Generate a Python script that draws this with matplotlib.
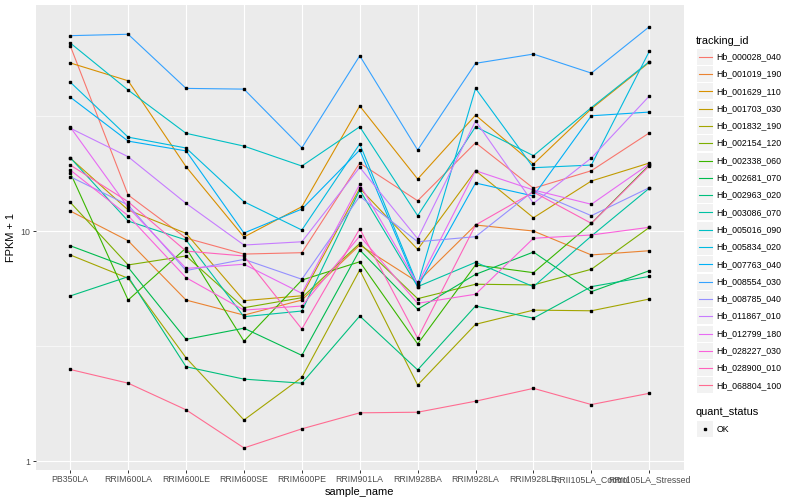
import matplotlib
matplotlib.use("Agg")
import matplotlib.pyplot as plt
from matplotlib.lines import Line2D
from matplotlib.patches import Rectangle
from matplotlib.ticker import FixedLocator, NullFormatter

plt.rcParams["font.family"] = ["Liberation Sans", "DejaVu Sans"]

samples = ["PB350LA", "RRIM600LA", "RRIM600LE", "RRIM600SE", "RRIM600PE",
           "RRIM901LA", "RRIM928BA", "RRIM928LA", "RRIM928LE",
           "RRII105LA_Control", "RRII105LA_Stressed"]

# FPKM + 1, one list per gene, in the sample order above
hb_000028_040 = [63.9, 14.34, 9.32, 7.94, 8.05, 19.75, 13.54, 24.2, 15.34, 18.29, 26.7]
hb_001019_190 = [12.22, 9.07, 5.01, 4.31, 5.01, 8.69, 6.00, 10.62, 10.0, 7.87, 8.21]
hb_001629_110 = [53.8, 45.0, 19.04, 9.42, 12.76, 34.96, 16.83, 31.9, 19.56, 34.0, 54.1]
hb_001703_030 = [20.77, 12.34, 9.77, 4.98, 5.23, 15.34, 8.32, 18.29, 11.42, 16.50, 19.75]
hb_001832_190 = [7.87, 6.23, 2.81, 1.508, 2.31, 6.77, 2.14, 3.93, 4.53, 4.50, 5.06]
hb_002154_120 = [13.33, 7.12, 7.79, 4.64, 5.13, 8.84, 5.08, 5.87, 5.83, 6.82, 10.36]
hb_002338_060 = [17.93, 5.01, 8.44, 3.32, 6.12, 7.35, 3.23, 7.12, 6.59, 10.80, 19.36]
hb_002681_070 = [8.63, 6.95, 3.38, 3.78, 2.88, 8.27, 4.57, 6.48, 8.10, 5.45, 6.72]
hb_002963_020 = [5.22, 6.33, 2.57, 2.27, 2.18, 4.27, 2.49, 4.72, 4.18, 5.73, 6.35]
hb_003086_070 = [20.83, 11.05, 9.14, 4.24, 4.49, 15.08, 5.73, 7.31, 5.73, 9.51, 15.34]
hb_005016_090 = [65.7, 41.0, 26.6, 23.4, 19.17, 28.4, 11.66, 28.4, 21.26, 34.4, 54.5]
hb_005834_020 = [44.4, 25.6, 22.96, 13.41, 10.10, 23.9, 5.83, 41.7, 18.85, 19.36, 60.4]
hb_007763_040 = [38.2, 24.6, 22.3, 9.80, 12.46, 22.5, 5.71, 16.17, 14.20, 31.7, 32.9]
hb_008554_030 = [70.7, 71.7, 41.7, 41.4, 23.0, 57.8, 22.5, 53.6, 58.8, 48.6, 77.3]
hb_008785_040 = [17.22, 12.97, 6.73, 7.53, 6.17, 14.16, 8.98, 9.45, 14.93, 11.66, 15.43]
hb_011867_010 = [28.0, 21.04, 13.19, 8.69, 8.98, 18.92, 9.26, 30.1, 13.19, 20.77, 38.6]
hb_012799_180 = [28.3, 12.68, 6.88, 7.17, 5.36, 15.96, 5.88, 18.29, 15.08, 13.07, 19.56]
hb_028227_030 = [18.42, 11.66, 6.27, 4.53, 4.72, 9.51, 4.85, 5.31, 9.30, 9.61, 10.38]
hb_028900_010 = [19.36, 13.41, 8.18, 7.79, 3.75, 10.23, 3.42, 10.62, 14.77, 10.80, 19.17]
hb_068804_100 = [2.50, 2.18, 1.67, 1.14, 1.38, 1.62, 1.63, 1.82, 2.07, 1.76, 1.97]

tracking_ids = ["Hb_000028_040", "Hb_001019_190", "Hb_001629_110", "Hb_001703_030",
                "Hb_001832_190", "Hb_002154_120", "Hb_002338_060", "Hb_002681_070",
                "Hb_002963_020", "Hb_003086_070", "Hb_005016_090", "Hb_005834_020",
                "Hb_007763_040", "Hb_008554_030", "Hb_008785_040", "Hb_011867_010",
                "Hb_012799_180", "Hb_028227_030", "Hb_028900_010", "Hb_068804_100"]

series = [hb_000028_040, hb_001019_190, hb_001629_110, hb_001703_030, hb_001832_190,
          hb_002154_120, hb_002338_060, hb_002681_070, hb_002963_020, hb_003086_070,
          hb_005016_090, hb_005834_020, hb_007763_040, hb_008554_030, hb_008785_040,
          hb_011867_010, hb_012799_180, hb_028227_030, hb_028900_010, hb_068804_100]

# ggplot2 default hue palette for 20 levels
colours = ["#F8766D", "#EA8331", "#D89000", "#C09B00", "#A3A500", "#7CAE00", "#39B600",
           "#00BB4E", "#00BF7D", "#00C1A3", "#00BFC4", "#00BAE0", "#00B0F6", "#35A2FF",
           "#9590FF", "#C77CFF", "#E76BF3", "#FA62DB", "#FF62BC", "#FF6C91"]

W, H = 800, 500
fig = plt.figure(figsize=(W / 100, H / 100), dpi=100)
ax = fig.add_axes([35.5 / W, 30 / H, (684 - 35.5) / W, 465 / H])
ax.set_facecolor("#EBEBEB")

xs = list(range(len(samples)))
for vals, col in zip(series, colours):
    ax.plot(xs, vals, color=col, lw=0.8, zorder=2)
for vals in series:
    ax.plot(xs, vals, ls="none", marker="s", ms=2.0, color="black", zorder=3)

ax.set_yscale("log")
ax.set_ylim(0.914, 96.1)
ax.set_xlim(-0.6, len(samples) - 0.4)
ax.set_yticks([1, 10])
ax.set_yticklabels(["1", "10"])
ax.yaxis.set_minor_locator(FixedLocator([10 ** 0.5, 10 ** 1.5]))
ax.yaxis.set_minor_formatter(NullFormatter())
ax.set_xticks(xs)
ax.set_xticklabels(samples)

ax.grid(which="major", color="white", lw=0.8)
ax.grid(which="minor", axis="y", color="white", lw=0.4)
ax.set_axisbelow(True)
for s in ax.spines.values():
    s.set_visible(False)
ax.tick_params(which="major", length=2, width=0.7, color="#333333",
               labelsize=6.3, labelcolor="#4D4D4D", pad=1.6)
ax.tick_params(which="minor", length=0)

ax.set_xlabel("sample_name", fontsize=7.9, labelpad=2)
ax.set_ylabel("FPKM + 1", fontsize=7.9, labelpad=3)


def fx(px):
    return px / W


def fy(py):
    return 1 - py / H


# legend: tracking_id
fig.text(fx(696), fy(40.7), "tracking_id", fontsize=7.9, va="center", ha="left")
for i, (name, col) in enumerate(zip(tracking_ids, colours)):
    yc = 56.7 + i * 17.3
    fig.add_artist(Rectangle((fx(697), fy(yc + 8)), 16 / W, 16 / H,
                             transform=fig.transFigure, facecolor="#F2F2F2",
                             edgecolor="none"))
    fig.add_artist(Line2D([fx(698.5), fx(711.5)], [fy(yc), fy(yc)], color=col,
                          lw=0.8, transform=fig.transFigure))
    fig.text(fx(716.7), fy(yc), name, fontsize=6.3, va="center", ha="left")

# legend: quant_status
fig.text(fx(696), fy(412.3), "quant_status", fontsize=7.9, va="center", ha="left")
fig.add_artist(Rectangle((fx(697), fy(429 + 8)), 16 / W, 16 / H,
                         transform=fig.transFigure, facecolor="#F2F2F2",
                         edgecolor="none"))
fig.add_artist(Line2D([fx(705)], [fy(429)], ls="none", marker="s", ms=2.0,
                      color="black", transform=fig.transFigure))
fig.text(fx(716.7), fy(429), "OK", fontsize=6.3, va="center", ha="left")

fig.savefig("out.png", dpi=100)
